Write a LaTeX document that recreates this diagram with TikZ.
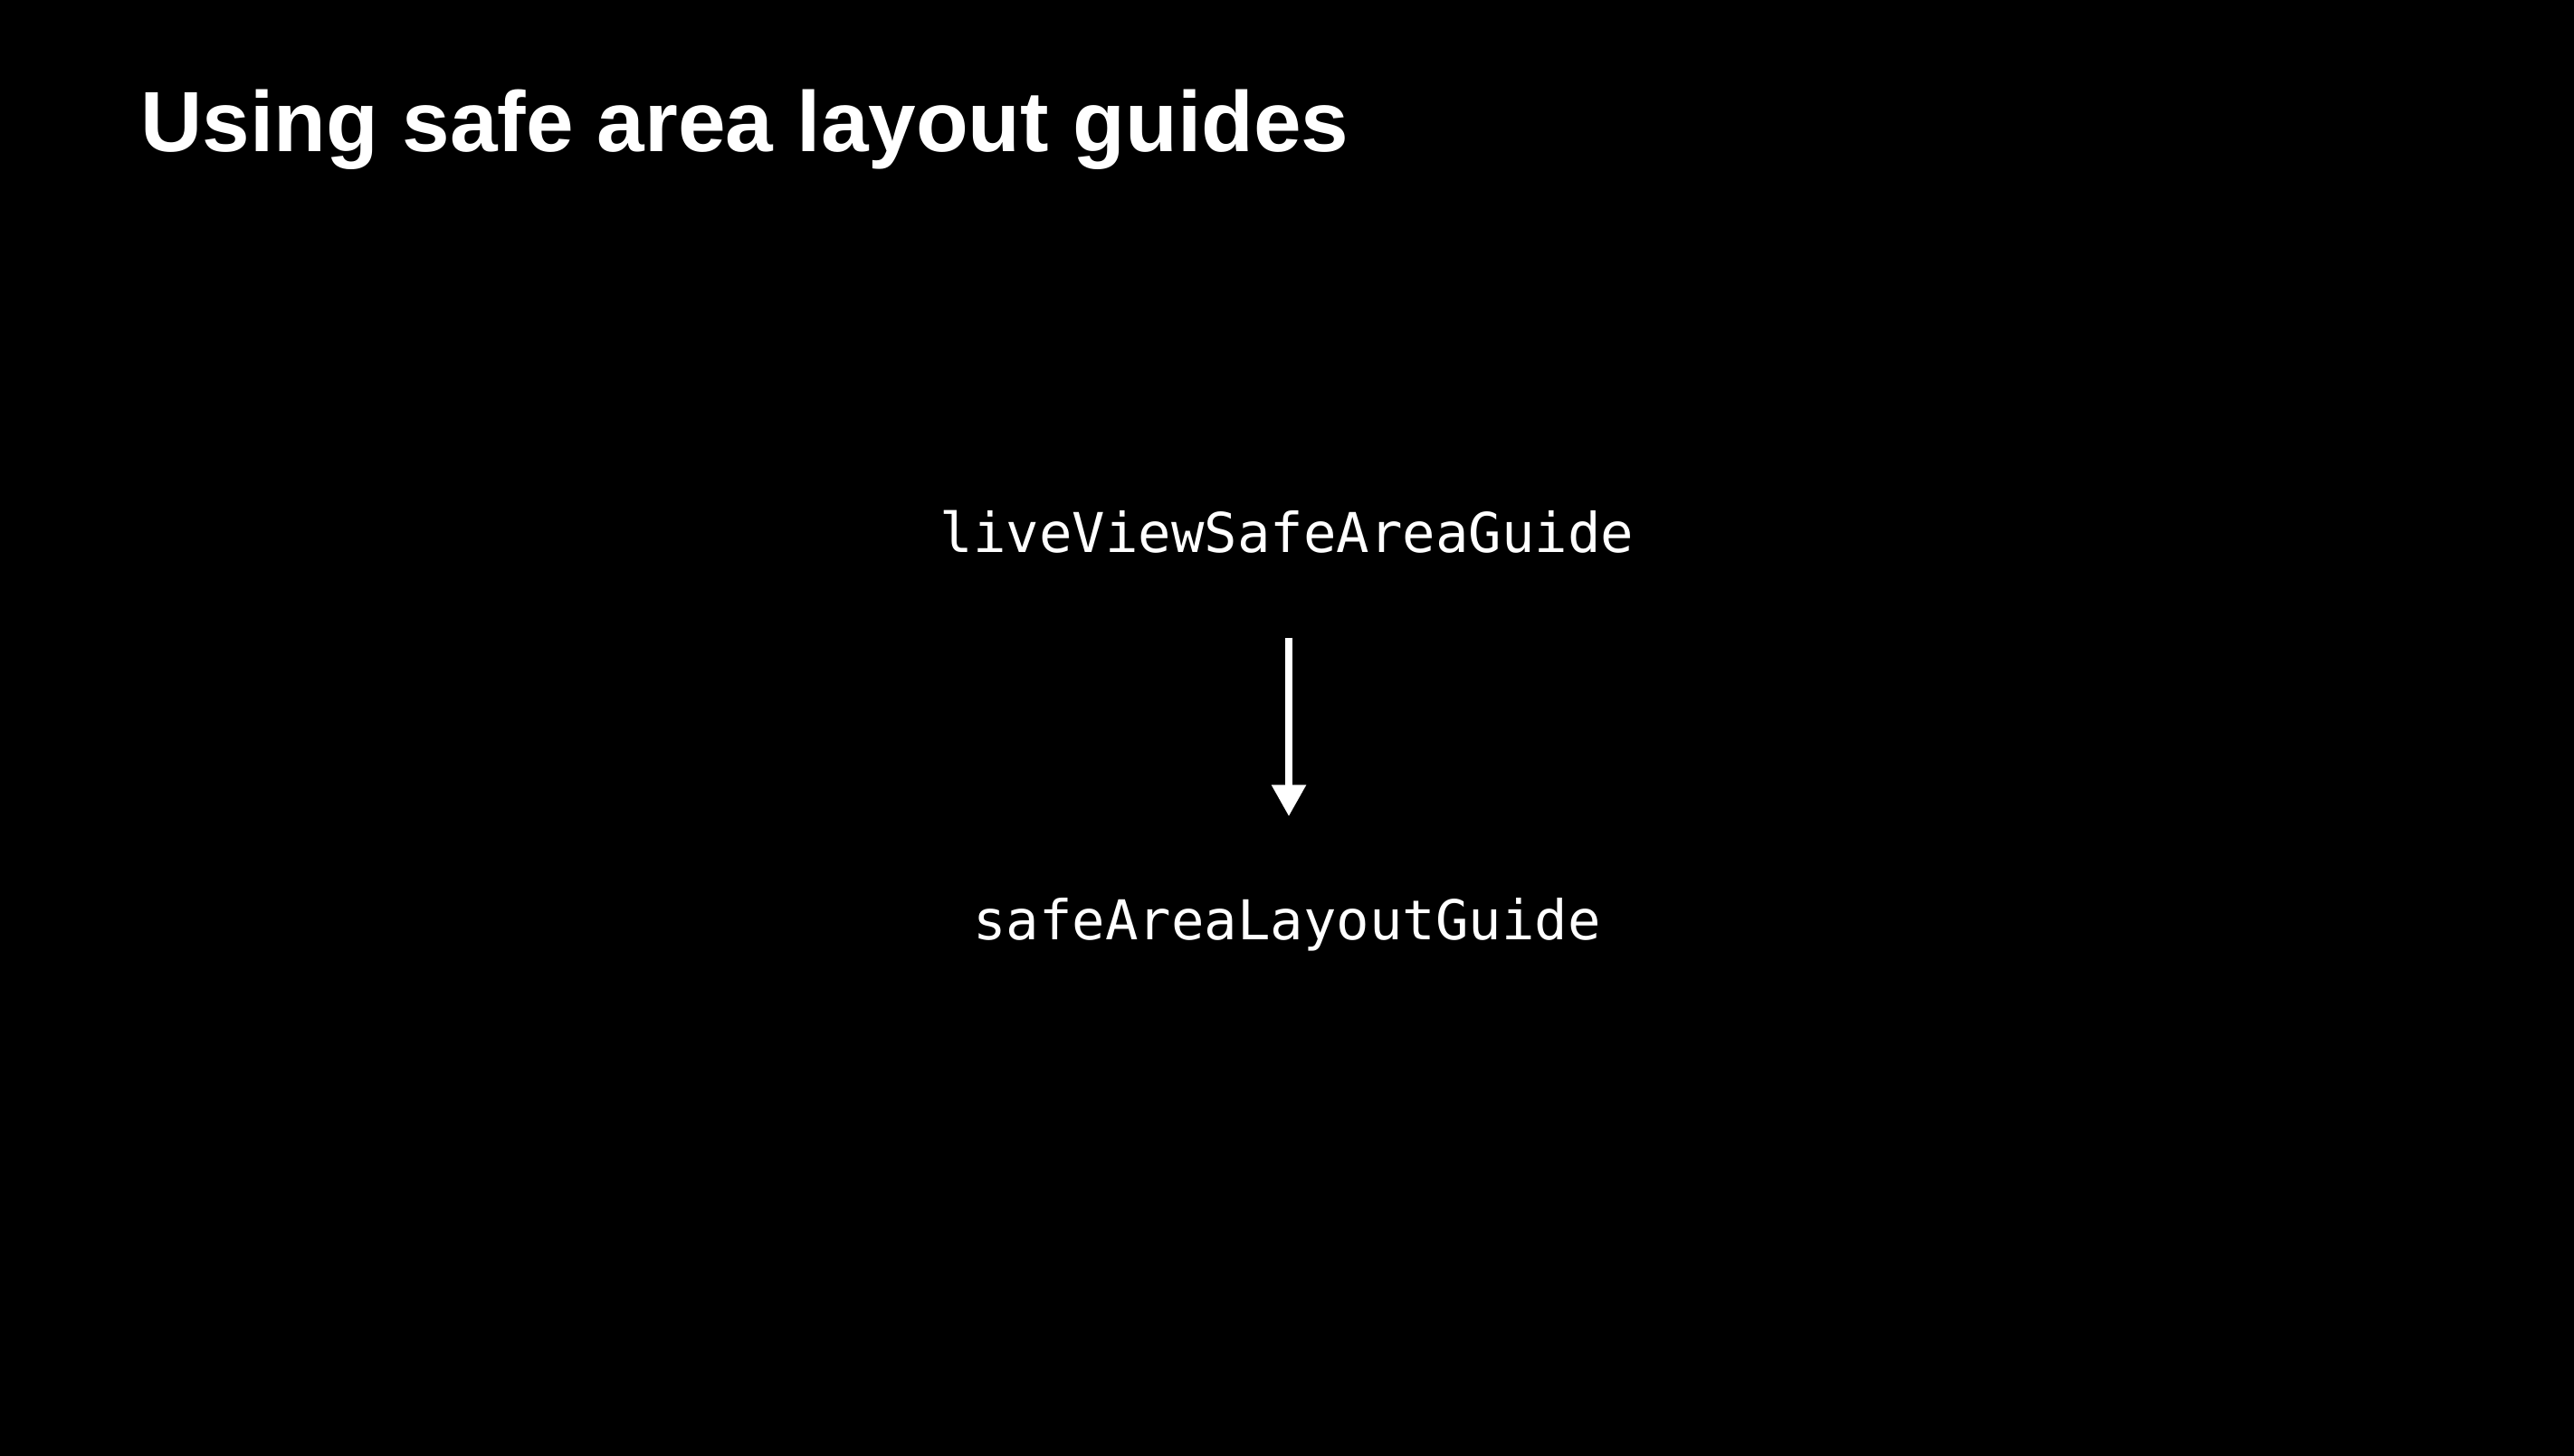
\documentclass[tikz,border=0pt]{standalone}
\usepackage{fontspec}
\setmainfont{Liberation Sans}
\newfontfamily\codefont{DejaVu Sans Mono}
\usetikzlibrary{arrows.meta}
\tikzset{
  guide/.style={anchor=base,inner sep=0pt,text=white,text height=0.5cm,text depth=0.15cm,
    font=\codefont\fontsize{17.25}{20}\selectfont},
}

\begin{document}
\begin{tikzpicture}
    \useasboundingbox (0,0) rectangle (28.44,16.08);
    \fill[black] (-0.1,-0.1) rectangle (28.54,16.18);
    \node[anchor=base west,inner sep=0pt,text=white,font=\bfseries\fontsize{26.9}{32}\selectfont] (title) at (1.55,14.40) {Using safe area layout guides};
    \node[guide] (live) at (14.22,9.97) {liveViewSafeAreaGuide};
    \node[guide] (safe) at (14.22,5.69) {safeAreaLayoutGuide};
    \draw[white,line width=2.5pt,-{Triangle[width=0.36cm,length=0.35cm]},shorten <=0.78cm,shorten >=0.86cm] ([xshift=0.02cm]live.south) -- ([xshift=0.02cm]safe.north);
\end{tikzpicture}
\end{document}
